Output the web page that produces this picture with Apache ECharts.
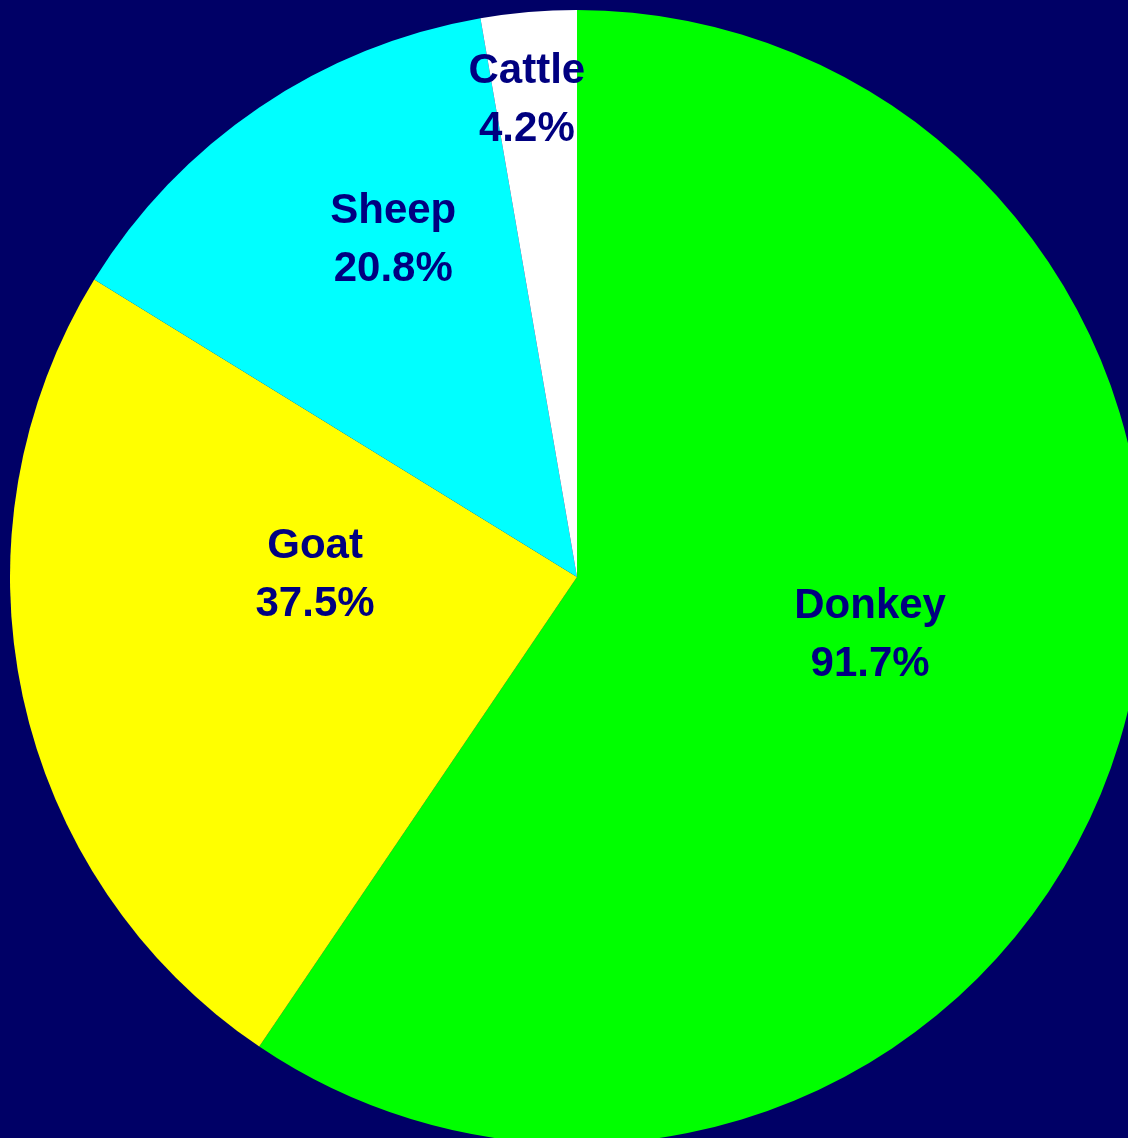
<!DOCTYPE html>
<html>
<head>
<meta charset="utf-8">
<script src="https://cdn.jsdelivr.net/npm/echarts@6/dist/echarts.min.js"></script>
<style>
  html, body { margin: 0; padding: 0; background: #000066; }
  #chart { width: 1128px; height: 1138px; }
</style>
</head>
<body>
<div id="chart"></div>
<script>
// Livestock shares, drawn clockwise from twelve o'clock
var categories = ['Donkey', 'Goat', 'Sheep', 'Cattle'];
var percentValues = [91.7, 37.5, 20.8, 4.2];
var sliceColors = ['#00ff00', '#ffff00', '#00ffff', '#ffffff'];

// Label placement: angle (degrees clockwise from top) and fraction of radius
var labelPolar = [
  { angle: 101.2, r: 0.527 },
  { angle: 270.4, r: 0.462 },
  { angle: 331.4, r: 0.677 },
  { angle: 354.0, r: 0.846 }
];

var CX = 577, CY = 577, R = 567;

var chart = echarts.init(document.getElementById('chart'), null, { renderer: 'canvas' });

var seriesData = categories.map(function (name, i) {
  return { name: name, value: percentValues[i], itemStyle: { color: sliceColors[i] } };
});

chart.setOption({
  backgroundColor: '#000066',
  animation: false,
  series: [{
    type: 'pie',
    center: [CX, CY],
    radius: [0, R],
    startAngle: 90,
    clockwise: true,
    avoidLabelOverlap: false,
    emphasis: { disabled: true },
    itemStyle: { borderWidth: 0 },
    label: {
      show: true,
      position: 'inside',
      formatter: '{b}\n{c}%',
      color: '#000080',
      fontFamily: '"Liberation Sans", Arial, sans-serif',
      fontWeight: 'bold',
      fontSize: 42,
      lineHeight: 58,
      align: 'center'
    },
    labelLine: { show: false },
    labelLayout: function (params) {
      var p = labelPolar[params.dataIndex];
      var a = p.angle * Math.PI / 180;
      return {
        x: CX + Math.sin(a) * p.r * R,
        y: CY - Math.cos(a) * p.r * R,
        align: 'center',
        verticalAlign: 'middle'
      };
    },
    data: seriesData
  }]
});
</script>
</body>
</html>
